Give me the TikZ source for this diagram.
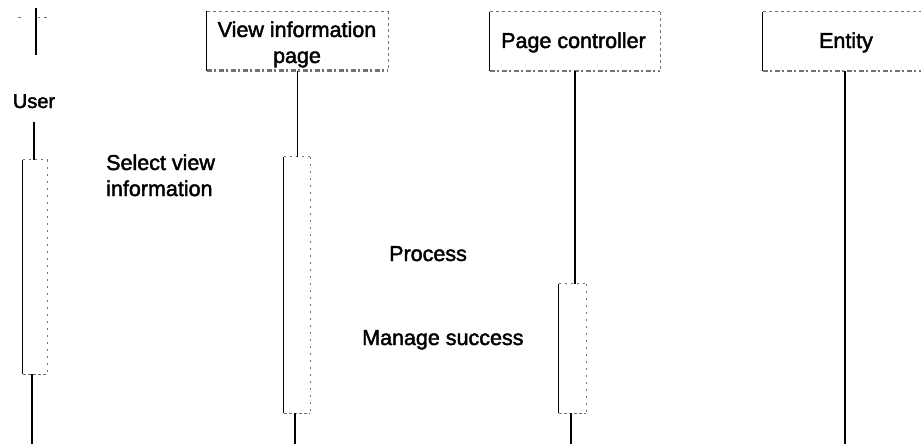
\documentclass[tikz,border=0pt]{standalone}
\usepackage{fontspec}
\setmainfont{Liberation Sans}
\newfontfamily\labelfont{Liberation Sans}[FakeBold=2]
\begin{document}
\begin{tikzpicture}[x=1pt,y=-1pt,
  lbl/.style={font=\labelfont\fontsize{21.5}{26}\selectfont, inner sep=0pt, align=center},
  headbox/.style={draw=none, inner sep=0pt, minimum height=59pt},
  actbox/.style={draw=none, inner sep=0pt},
  solidedge/.style={draw=black, line width=1.1pt},
  faintedge/.style={draw=black!55, line width=0.7pt, dash pattern=on 3pt off 3pt},
  grainedge/.style={draw=black!55, line width=2.4pt, dash pattern=on 5pt off 2pt on 2pt off 3pt},
  lifeline/.style={draw=black, line width=1.1pt}
]
\useasboundingbox (0,0) rectangle (921,444);
\clip (0,0) rectangle (921,444);

% participant heads
\node[headbox, minimum width=181pt] (vip) at (297.5,41) {};
\node[headbox, minimum width=170pt] (pc)  at (575,41.5) {};
\node[headbox, minimum width=164pt] (ent) at (845,41.5) {};
\foreach \h in {vip,pc,ent}{
  \draw[solidedge] (\h.north west) -- (\h.south west);
  \draw[faintedge] (\h.north west) -- (\h.north east);
  \draw[faintedge] (\h.north east) -- (\h.south east);
  \draw[grainedge] (\h.south west) -- (\h.south east);
}
% multi-line labels sit on the baseline of their last line
\node[lbl, anchor=base] (viptext) at (297,63) {View information\\page};
\node[lbl, anchor=base] (pctext) at (573.5,48) {Page controller};
\node[lbl, anchor=base] (enttext) at (846,48) {Entity};

% actor
\coordinate (utop) at (36,8);
\coordinate (ustem) at (36,55);
\draw[lifeline] (utop) -- (ustem);
\draw[faintedge, line width=0.6pt] (18,17) -- (22,17) (38,17) -- (40,17) (44,17) -- (50,17);
\node[inner sep=0pt, anchor=base, font=\labelfont\fontsize{20}{23}\selectfont] (user) at (34,108) {User};

% activation bars
\node[actbox, minimum width=24pt, minimum height=214pt] (ua) at (35,267) {};
\node[actbox, minimum width=26pt, minimum height=256pt] (va) at (297,285) {};
\node[actbox, minimum width=27pt, minimum height=129pt] (pa) at (572.5,348.5) {};
\foreach \a in {ua,va,pa}{
  \draw[solidedge] (\a.north west) -- (\a.south west);
  \draw[faintedge, dash pattern=on 2pt off 4pt] (\a.north west) -- (\a.north east);
  \draw[faintedge, dash pattern=on 2pt off 5pt] (\a.north east) -- (\a.south east);
  \draw[faintedge, dash pattern=on 3pt off 2pt] (\a.south west) -- (\a.south east);
}

% lifelines
\coordinate (uend) at (32,444);
\coordinate (vend) at (295,444);
\coordinate (pend) at (571,444);
\coordinate (eend) at (845,444);
\draw[lifeline] ([yshift=-14pt]user.base) -- (user.base |- ua.north);
\draw[lifeline] (uend |- ua.south) -- (uend);
\draw[lifeline] (vip.south) -- (vip.south |- va.north);
\draw[lifeline] (vend |- va.south) -- (vend);
\draw[lifeline] (pc.south) -- (pc.south |- pa.north);
\draw[lifeline] (pend |- pa.south) -- (pend);
\draw[lifeline] (ent.south) -- (eend);

% message labels
\node[lbl, anchor=base west, align=left] (sel) at (106,196) {Select view\\information};
\node[lbl, anchor=base west] (proc) at (389,261) {Process};
\node[lbl, anchor=base west] (mng) at (362,345) {Manage success};
\end{tikzpicture}
\end{document}
